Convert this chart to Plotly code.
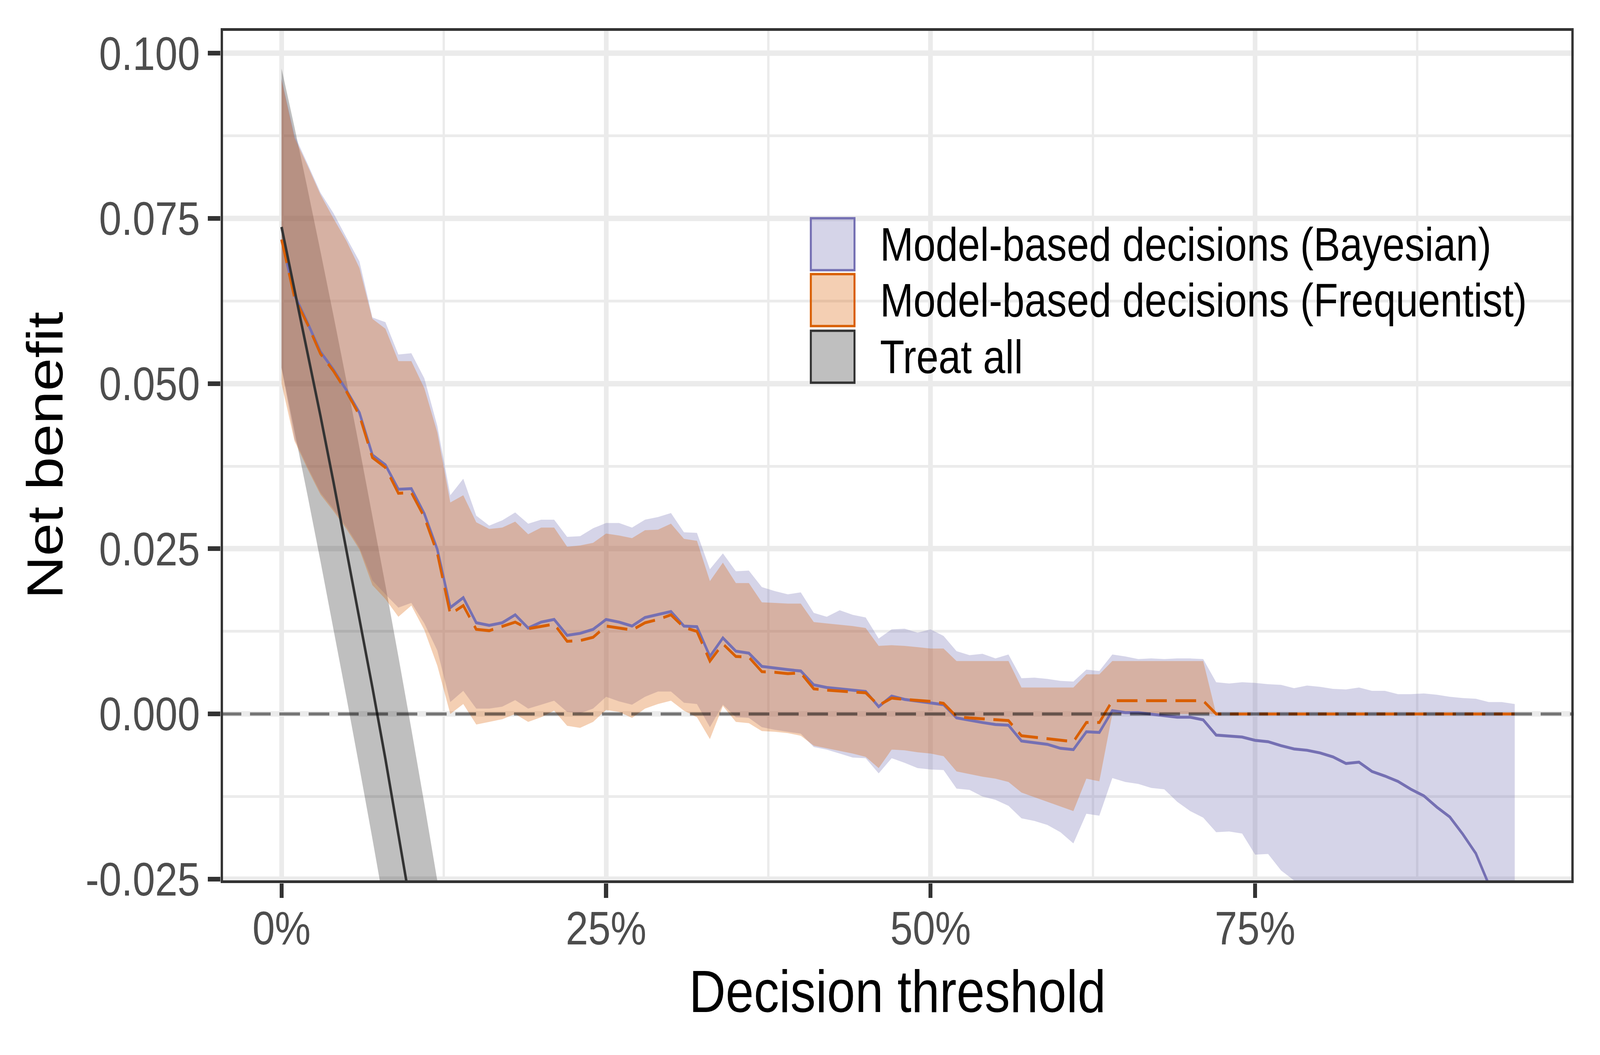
import plotly.graph_objects as go

# ---------------- data ----------------
thresholds = [0.00, 0.01, 0.02, 0.03, 0.04, 0.05, 0.06, 0.07, 0.08, 0.09,
              0.10, 0.11, 0.12, 0.13, 0.14, 0.15, 0.16, 0.17, 0.18, 0.19,
              0.20, 0.21, 0.22, 0.23, 0.24, 0.25, 0.26, 0.27, 0.28, 0.29,
              0.30, 0.31, 0.32, 0.33, 0.34, 0.35, 0.36, 0.37, 0.38, 0.39,
              0.40, 0.41, 0.42, 0.43, 0.44, 0.45, 0.46, 0.47, 0.48, 0.49,
              0.50, 0.51, 0.52, 0.53, 0.54, 0.55, 0.56, 0.57, 0.58, 0.59,
              0.60, 0.61, 0.62, 0.63, 0.64, 0.65, 0.66, 0.67, 0.68, 0.69,
              0.70, 0.71, 0.72, 0.73, 0.74, 0.75, 0.76, 0.77, 0.78, 0.79,
              0.80, 0.81, 0.82, 0.83, 0.84, 0.85, 0.86, 0.87, 0.88, 0.89,
              0.90, 0.91, 0.92, 0.93, 0.94, 0.95]

bayes_nb = [0.0718, 0.0634, 0.0592, 0.0548, 0.0521, 0.0490, 0.0456, 0.0392, 0.0377, 0.0340,
            0.0341, 0.0303, 0.0249, 0.0161, 0.0176, 0.0138, 0.0134, 0.0138, 0.0150, 0.0130,
            0.0139, 0.0143, 0.0119, 0.0122, 0.0128, 0.0143, 0.0139, 0.0133, 0.0146, 0.0150,
            0.0155, 0.0133, 0.0132, 0.0087, 0.0115, 0.0095, 0.0092, 0.0072, 0.0069, 0.0067,
            0.0065, 0.0044, 0.0040, 0.0038, 0.0036, 0.0034, 0.0011, 0.0027, 0.0022, 0.0019,
            0.0017, 0.0014, -0.0006, -0.0010, -0.0013, -0.0016, -0.0017, -0.0041, -0.0044, -0.0046,
            -0.0052, -0.0054, -0.0027, -0.0028, 0.0005, 0.0002, 0.0002, 0.0000, -0.0002, -0.0005,
            -0.0005, -0.0009, -0.0032, -0.0034, -0.0035, -0.0040, -0.0042, -0.0048, -0.0053, -0.0055,
            -0.0059, -0.0065, -0.0075, -0.0073, -0.0087, -0.0094, -0.0102, -0.0114, -0.0124, -0.0141,
            -0.0156, -0.0182, -0.0211, -0.0258, -0.0320, -0.0400]

bayes_lo = [0.0524, 0.0416, 0.0374, 0.0335, 0.0310, 0.0283, 0.0252, 0.0202, 0.0181, 0.0161,
            0.0168, 0.0137, 0.0096, 0.0018, 0.0035, 0.0008, 0.0008, 0.0011, 0.0021, 0.0008,
            0.0014, 0.0020, 0.0003, 0.0001, 0.0008, 0.0026, 0.0019, 0.0014, 0.0026, 0.0034,
            0.0034, 0.0017, 0.0015, -0.0020, 0.0014, -0.0005, -0.0006, -0.0020, -0.0024, -0.0027,
            -0.0030, -0.0050, -0.0054, -0.0060, -0.0066, -0.0067, -0.0090, -0.0067, -0.0074, -0.0082,
            -0.0084, -0.0085, -0.0113, -0.0115, -0.0125, -0.0130, -0.0139, -0.0158, -0.0162, -0.0168,
            -0.0179, -0.0196, -0.0151, -0.0154, -0.0097, -0.0103, -0.0106, -0.0112, -0.0114, -0.0133,
            -0.0147, -0.0157, -0.0179, -0.0178, -0.0181, -0.0213, -0.0212, -0.0237, -0.0252, -0.0262,
            -0.0275, -0.0290, -0.0300, -0.0310, -0.0322, -0.0335, -0.0345, -0.0358, -0.0370, -0.0385,
            -0.0400, -0.0418, -0.0436, -0.0455, -0.0475, -0.0500]

bayes_hi = [0.0962, 0.0876, 0.0833, 0.0789, 0.0758, 0.0721, 0.0685, 0.0600, 0.0593, 0.0544,
            0.0546, 0.0508, 0.0436, 0.0331, 0.0356, 0.0300, 0.0285, 0.0293, 0.0305, 0.0288,
            0.0294, 0.0294, 0.0268, 0.0269, 0.0281, 0.0289, 0.0289, 0.0282, 0.0294, 0.0298,
            0.0304, 0.0275, 0.0274, 0.0219, 0.0243, 0.0216, 0.0217, 0.0192, 0.0186, 0.0181,
            0.0184, 0.0153, 0.0147, 0.0157, 0.0150, 0.0146, 0.0114, 0.0128, 0.0129, 0.0123,
            0.0128, 0.0118, 0.0095, 0.0089, 0.0091, 0.0084, 0.0090, 0.0054, 0.0055, 0.0053,
            0.0050, 0.0049, 0.0067, 0.0065, 0.0090, 0.0087, 0.0083, 0.0084, 0.0083, 0.0084,
            0.0084, 0.0083, 0.0048, 0.0046, 0.0048, 0.0047, 0.0045, 0.0044, 0.0039, 0.0043,
            0.0041, 0.0038, 0.0037, 0.0040, 0.0035, 0.0035, 0.0030, 0.0030, 0.0031, 0.0029,
            0.0026, 0.0024, 0.0023, 0.0018, 0.0018, 0.0015]

freq_nb = [0.0718, 0.0630, 0.0590, 0.0545, 0.0519, 0.0488, 0.0452, 0.0388, 0.0373, 0.0334,
           0.0335, 0.0298, 0.0243, 0.0151, 0.0164, 0.0128, 0.0126, 0.0132, 0.0139, 0.0129,
           0.0133, 0.0136, 0.0110, 0.0111, 0.0116, 0.0133, 0.0130, 0.0127, 0.0138, 0.0143,
           0.0150, 0.0131, 0.0125, 0.0080, 0.0106, 0.0087, 0.0086, 0.0064, 0.0063, 0.0061,
           0.0062, 0.0038, 0.0036, 0.0035, 0.0033, 0.0032, 0.0013, 0.0024, 0.0022, 0.0021,
           0.0019, 0.0016, -0.0004, -0.0006, -0.0007, -0.0009, -0.0010, -0.0033, -0.0035, -0.0038,
           -0.0040, -0.0042, -0.0013, -0.0013, 0.0020, 0.0020, 0.0020, 0.0020, 0.0020, 0.0020,
           0.0020, 0.0020, 0.0000, 0.0000, 0.0000, 0.0000, 0.0000, 0.0000, 0.0000, 0.0000,
           0.0000, 0.0000, 0.0000, 0.0000, 0.0000, 0.0000, 0.0000, 0.0000, 0.0000, 0.0000,
           0.0000, 0.0000, 0.0000, 0.0000, 0.0000, 0.0000]

freq_lo = [0.0500, 0.0413, 0.0371, 0.0332, 0.0307, 0.0280, 0.0249, 0.0195, 0.0174, 0.0147,
           0.0164, 0.0127, 0.0073, 0.0000, 0.0015, -0.0016, -0.0012, -0.0008, 0.0000, -0.0012,
           -0.0005, 0.0005, -0.0018, -0.0021, -0.0012, 0.0006, 0.0003, -0.0006, 0.0008, 0.0015,
           0.0020, 0.0005, -0.0005, -0.0038, 0.0012, -0.0012, -0.0014, -0.0026, -0.0027, -0.0029,
           -0.0033, -0.0048, -0.0052, -0.0056, -0.0060, -0.0065, -0.0082, -0.0054, -0.0055, -0.0058,
           -0.0060, -0.0064, -0.0087, -0.0091, -0.0095, -0.0098, -0.0103, -0.0119, -0.0126, -0.0133,
           -0.0140, -0.0147, -0.0098, -0.0102, 0.0000, 0.0000, 0.0000, 0.0000, 0.0000, 0.0000,
           0.0000, 0.0000, 0.0000, 0.0000, 0.0000, 0.0000, 0.0000, 0.0000, 0.0000, 0.0000,
           0.0000, 0.0000, 0.0000, 0.0000, 0.0000, 0.0000, 0.0000, 0.0000, 0.0000, 0.0000,
           0.0000, 0.0000, 0.0000, 0.0000, 0.0000, 0.0000]

freq_hi = [0.0960, 0.0872, 0.0830, 0.0786, 0.0750, 0.0716, 0.0675, 0.0598, 0.0583, 0.0534,
           0.0534, 0.0493, 0.0426, 0.0320, 0.0331, 0.0290, 0.0280, 0.0282, 0.0291, 0.0272,
           0.0282, 0.0282, 0.0253, 0.0255, 0.0259, 0.0273, 0.0270, 0.0266, 0.0278, 0.0279,
           0.0288, 0.0265, 0.0262, 0.0201, 0.0229, 0.0198, 0.0198, 0.0169, 0.0168, 0.0167,
           0.0167, 0.0139, 0.0137, 0.0135, 0.0133, 0.0130, 0.0103, 0.0104, 0.0103, 0.0101,
           0.0099, 0.0099, 0.0080, 0.0080, 0.0080, 0.0080, 0.0080, 0.0040, 0.0040, 0.0040,
           0.0040, 0.0040, 0.0060, 0.0060, 0.0080, 0.0080, 0.0080, 0.0080, 0.0080, 0.0080,
           0.0080, 0.0080, 0.0000, 0.0000, 0.0000, 0.0000, 0.0000, 0.0000, 0.0000, 0.0000,
           0.0000, 0.0000, 0.0000, 0.0000, 0.0000, 0.0000, 0.0000, 0.0000, 0.0000, 0.0000,
           0.0000, 0.0000, 0.0000, 0.0000, 0.0000, 0.0000]

treat_thresholds = [0.00, 0.01, 0.02, 0.03, 0.04, 0.05, 0.06, 0.07, 0.08, 0.09, 0.10, 0.11, 0.12, 0.13]
treat_nb = [0.0737, 0.0643, 0.0548, 0.0451, 0.0351, 0.0249, 0.0146, 0.0040, -0.0068, -0.0179,
            -0.0292, -0.0408, -0.0526, -0.0647]
treat_lo = [0.0524, 0.0428, 0.0331, 0.0231, 0.0129, 0.0025, -0.0081, -0.0189, -0.0300, -0.0413,
            -0.0529, -0.0647, -0.0768, -0.0892]
treat_hi = [0.0977, 0.0888, 0.0795, 0.0700, 0.0603, 0.0504, 0.0403, 0.0300, 0.0195, 0.0087,
            -0.0023, -0.0136, -0.0251, -0.0369]

x_tick_vals = [0.0, 0.25, 0.5, 0.75]
x_tick_text = ["0%", "25%", "50%", "75%"]
x_minor_vals = [0.125, 0.375, 0.625, 0.875]
y_tick_vals = [-0.025, 0.0, 0.025, 0.05, 0.075, 0.1]
y_tick_text = ["-0.025", "0.000", "0.025", "0.050", "0.075", "0.100"]
y_minor_vals = [-0.0125, 0.0125, 0.0375, 0.0625, 0.0875]

legend_labels = ["Model-based decisions (Bayesian)",
                 "Model-based decisions (Frequentist)",
                 "Treat all"]
x_title = "Decision threshold"
y_title = "Net benefit"

# ---------------- styles / layout ----------------
W, H = 4800, 2700
PX0, PX1, PY0, PY1 = 662, 4721, 72, 2260   # plot panel in pixels
FONT = "Liberation Sans, Arial, Helvetica, sans-serif"

C_BAYES = "#7570B3"
C_FREQ = "#D95F02"
C_TREAT = "#333333"
F_BAYES = "rgba(117,112,179,0.3)"
F_FREQ = "rgba(217,95,2,0.3)"
F_TREAT = "rgba(0,0,0,0.25)"
LW = 7.5
DASH = "62px,26px"


def px(X):
    return (X - PX0) / (PX1 - PX0)


def py(Y):
    return (PY1 - Y) / (PY1 - PY0)


fig = go.Figure()


def band(x, lo, hi, fill):
    fig.add_trace(go.Scatter(x=x, y=lo, mode="lines", line=dict(width=0, color=fill),
                             showlegend=False, hoverinfo="skip"))
    fig.add_trace(go.Scatter(x=x, y=hi, mode="lines", line=dict(width=0, color=fill),
                             fill="tonexty", fillcolor=fill, showlegend=False, hoverinfo="skip"))


band(treat_thresholds, treat_lo, treat_hi, F_TREAT)
band(thresholds, bayes_lo, bayes_hi, F_BAYES)
band(thresholds, freq_lo, freq_hi, F_FREQ)

fig.add_trace(go.Scatter(x=thresholds, y=bayes_nb, mode="lines",
                         line=dict(color=C_BAYES, width=LW), showlegend=False))
fig.add_trace(go.Scatter(x=thresholds, y=freq_nb, mode="lines",
                         line=dict(color=C_FREQ, width=LW, dash=DASH), showlegend=False))
fig.add_trace(go.Scatter(x=treat_thresholds, y=treat_nb, mode="lines",
                         line=dict(color=C_TREAT, width=LW), showlegend=False))

fig.add_hline(y=0, line=dict(color="rgba(0,0,0,0.5)", width=8, dash=DASH), layer="above")

shapes = []
# white legend background (hides the grid lines behind the legend)
shapes.append(dict(type="rect", xref="paper", yref="paper",
                   x0=px(2349), x1=px(4662), y0=py(1059), y1=py(403),
                   fillcolor="white", line=dict(width=0), layer="between"))
# panel border
shapes.append(dict(type="rect", xref="paper", yref="paper",
                   x0=px(PX0 + 3.5), x1=px(PX1 - 3.5), y0=py(PY1 - 3.5), y1=py(PY0 + 3.5),
                   line=dict(color="#333333", width=7), fillcolor="rgba(0,0,0,0)", layer="above"))

# legend keys and labels
key_tops = [555, 698, 843]
key_h = 140
key_fill = [F_BAYES, F_FREQ, F_TREAT]
key_line = [C_BAYES, C_FREQ, C_TREAT]
annotations = []
for i, lab in enumerate(legend_labels):
    t = key_tops[i]
    shapes.append(dict(type="rect", xref="paper", yref="paper",
                       x0=px(2429 + 3.5), x1=px(2567 - 3.5),
                       y0=py(t + key_h - 3.5), y1=py(t + 3.5),
                       fillcolor=key_fill[i], line=dict(color=key_line[i], width=6), layer="above"))
    annotations.append(dict(text=lab, xref="paper", yref="paper",
                            x=px(2638), y=py(t + key_h / 2), xanchor="left", yanchor="middle",
                            showarrow=False, font=dict(family=FONT, size=120, color="black")))

annotations.append(dict(text=x_title, xref="paper", yref="paper",
                        x=px(2692), y=py(2537), xanchor="center", yanchor="middle",
                        showarrow=False, font=dict(family=FONT, size=152, color="black")))
annotations.append(dict(text=y_title, xref="paper", yref="paper",
                        x=px(135), y=py(1166), xanchor="center", yanchor="middle", textangle=-90,
                        showarrow=False, font=dict(family=FONT, size=152, color="black")))

grid = "#EBEBEB"
fig.update_layout(
    width=W, height=H,
    margin=dict(l=PX0, r=W - PX1, t=PY0, b=H - PY1, pad=0),
    paper_bgcolor="white", plot_bgcolor="white",
    showlegend=False,
    font=dict(family=FONT, size=121, color="#4D4D4D"),
    shapes=shapes,
    annotations=annotations,
    xaxis=dict(range=[-0.0469, 0.9954], tickvals=x_tick_vals, ticktext=x_tick_text,
               showgrid=True, gridcolor=grid, gridwidth=14, zeroline=False, showline=False,
               ticks="outside", ticklen=37, tickwidth=12, tickcolor="#333333",
               ticklabelstandoff=-26,
               tickfont=dict(family=FONT, size=121, color="#4D4D4D"),
               minor=dict(tickvals=x_minor_vals, showgrid=True, gridcolor=grid, gridwidth=7, ticks=""),
               fixedrange=True),
    yaxis=dict(range=[-0.0256, 0.1038], tickvals=y_tick_vals, ticktext=y_tick_text,
               showgrid=True, gridcolor=grid, gridwidth=14, zeroline=False, showline=False,
               ticks="outside", ticklen=37, tickwidth=12, tickcolor="#333333",
               tickfont=dict(family=FONT, size=121, color="#4D4D4D"),
               minor=dict(tickvals=y_minor_vals, showgrid=True, gridcolor=grid, gridwidth=7, ticks=""),
               fixedrange=True),
)

# Fit the 4800x2700 figure to whatever viewport the page is opened in.
fit_js = """
document.body.style.margin = '0';
document.body.style.overflow = 'hidden';
(function () {
  var gd = document.getElementById('{plot_id}');
  var sx = window.innerWidth / 4800, sy = window.innerHeight / 2700;
  if (sx > 0 && sy > 0 && (Math.abs(sx - 1) > 0.001 || Math.abs(sy - 1) > 0.001)) {
    gd.style.transformOrigin = '0 0';
    gd.style.transform = 'scale(' + sx + ',' + sy + ')';
  }
})();
"""
fig.write_html("out.html", post_script=fit_js,
               config={"displayModeBar": False, "staticPlot": True})
